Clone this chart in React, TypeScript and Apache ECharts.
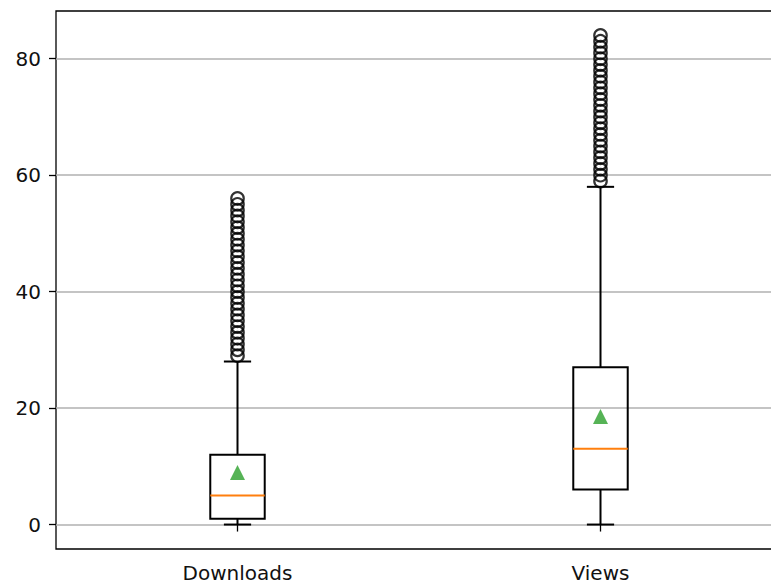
import React, { useEffect, useRef } from "react";
import * as echarts from "echarts";

const categories = ["Downloads", "Views"];
// [min whisker, Q1, median, Q3, max whisker]
const downloadsBox = [0, 1, 5, 12, 28];
const viewsBox = [0, 6, 13, 27, 58];
const means = [8.93, 18.54];
const downloadsOutliers = [29, 30, 31, 32, 33, 34, 35, 36, 37, 38, 39, 40, 41, 42, 43, 44, 45, 46, 47, 48, 49, 50, 51, 52, 53, 54, 55, 56];
const viewsOutliers = [59, 60, 61, 62, 63, 64, 65, 66, 67, 68, 69, 70, 71, 72, 73, 74, 75, 76, 77, 78, 79, 80, 81, 82, 83, 84];
const yTicks = [0, 20, 40, 60, 80];

export default function App() {
  const ref = useRef<HTMLDivElement>(null);
  useEffect(() => {
    if (!ref.current) return;
    const chart = echarts.init(ref.current, undefined, { renderer: "svg" });
    const boxes = [downloadsBox, viewsBox];
    const boxData = boxes.map((b, i) => [i, ...b]);
    const outlierData = [
      ...downloadsOutliers.map((v) => [0, v]),
      ...viewsOutliers.map((v) => [1, v]),
    ];
    const meanData = means.map((m, i) => [i, m]);
    const font = "'DejaVu Sans', sans-serif";
    chart.setOption({
      animation: false,
      grid: {
        left: 56,
        top: 11,
        width: 726,
        height: 538,
        show: true,
        borderColor: "#000",
        borderWidth: 1.3,
        backgroundColor: "#fff",
        outerBoundsMode: "none",
        containLabel: false,
      },
      xAxis: {
        type: "category",
        data: categories,
        boundaryGap: true,
        axisLine: { show: false },
        axisTick: { show: true, alignWithLabel: true, length: 7, lineStyle: { color: "#000", width: 1.3 } },
        axisLabel: { color: "#111", fontSize: 20, fontFamily: font, margin: 14 },
        splitLine: { show: false },
      },
      yAxis: {
        type: "value",
        min: -4.2,
        max: 88.2,
        axisLine: { show: false },
        axisTick: { show: true, length: 7, lineStyle: { color: "#000", width: 1.3 }, customValues: yTicks },
        axisLabel: { color: "#111", fontSize: 20, fontFamily: font, margin: 15, customValues: yTicks },
        splitLine: { show: true, lineStyle: { color: "#b0b0b0", width: 1.5 } },
      },
      series: [
        {
          type: "custom",
          data: boxData,
          encode: { x: 0, y: [1, 2, 3, 4, 5] },
          z: 3,
          renderItem: (params: any, api: any) => {
            const x = api.value(0);
            const band = api.size([1, 0])[0];
            const bw = band * 0.15;
            const cw = band * 0.075;
            const pMin = api.coord([x, api.value(1)]);
            const pQ1 = api.coord([x, api.value(2)]);
            const pMed = api.coord([x, api.value(3)]);
            const pQ3 = api.coord([x, api.value(4)]);
            const pMax = api.coord([x, api.value(5)]);
            const cx = pMin[0];
            const stroke = { stroke: "#000", lineWidth: 2, fill: null };
            return {
              type: "group",
              children: [
                { type: "line", shape: { x1: cx, y1: pQ1[1], x2: cx, y2: pMin[1] }, style: stroke },
                { type: "line", shape: { x1: cx, y1: pQ3[1], x2: cx, y2: pMax[1] }, style: stroke },
                { type: "line", shape: { x1: cx - cw / 2, y1: pMin[1], x2: cx + cw / 2, y2: pMin[1] }, style: stroke },
                { type: "line", shape: { x1: cx - cw / 2, y1: pMax[1], x2: cx + cw / 2, y2: pMax[1] }, style: stroke },
                {
                  type: "rect",
                  shape: { x: cx - bw / 2, y: pQ3[1], width: bw, height: pQ1[1] - pQ3[1] },
                  style: { stroke: "#000", lineWidth: 2, fill: "none" },
                },
                {
                  type: "line",
                  shape: { x1: cx - bw / 2, y1: pMed[1], x2: cx + bw / 2, y2: pMed[1] },
                  style: { stroke: "#ff7f0e", lineWidth: 2 },
                },
              ],
            };
          },
        },
        {
          type: "scatter",
          data: outlierData,
          symbol: "circle",
          symbolSize: 12.5,
          z: 4,
          itemStyle: { color: "rgba(0,0,0,0)", borderColor: "#000", borderWidth: 2.2 },
        },
        {
          type: "scatter",
          data: meanData,
          symbol: "triangle",
          symbolSize: 15,
          z: 5,
          itemStyle: { color: "#2ca02c" },
        },
      ],
    });
    return () => chart.dispose();
  }, []);
  return (
    <div
      ref={ref}
      style={{ position: "fixed", left: 0, top: 0, width: 771, height: 584, background: "#fff" }}
    />
  );
}
